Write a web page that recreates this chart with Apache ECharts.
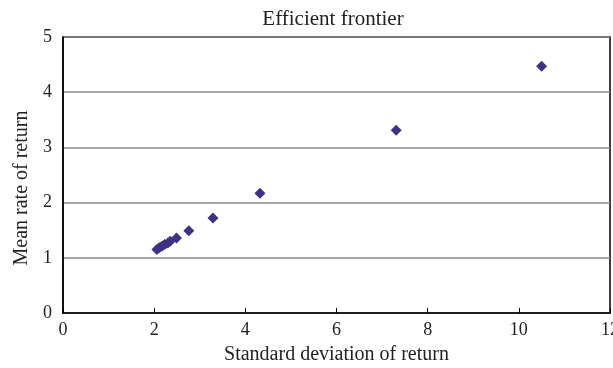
<!DOCTYPE html>
<html><head><meta charset="utf-8">
<script src="https://cdn.jsdelivr.net/npm/echarts@6/dist/echarts.min.js"></script>
<style>html,body{margin:0;padding:0;background:#fff}#c{width:613px;height:368px}</style>
</head><body><div id="c"></div>
<script>
const stdDev = [2.06, 2.11, 2.17, 2.23, 2.30, 2.35, 2.49, 2.76, 3.29, 4.32, 7.31, 10.50];
const meanRet = [1.15, 1.18, 1.21, 1.24, 1.27, 1.30, 1.36, 1.49, 1.72, 2.17, 3.31, 4.47];
const xTicks = [0, 2, 4, 6, 8, 10, 12];
const yTicks = [0, 1, 2, 3, 4, 5];
const font = 'Liberation Serif';
const chart = echarts.init(document.getElementById('c'));
chart.setOption({
  animation: false,
  title: {text: 'Efficient frontier', left: 328, top: 4, textAlign: 'center',
    textStyle: {fontFamily: font, fontSize: 21, fontWeight: 'normal', color: '#222'}},
  grid: {left: 63, right: 3, top: 37, bottom: 55, show: true, borderColor: '#000', borderWidth: 1.5,
    containLabel: false, outerBoundsMode: 'none'},
  xAxis: {type: 'value', min: 0, max: 12, interval: 2,
    name: 'Standard deviation of return', nameLocation: 'middle', nameGap: 32,
    nameTextStyle: {fontFamily: font, fontSize: 20, color: '#222'},
    axisLine: {show: true, lineStyle: {color: '#000', width: 1.5}},
    axisTick: {show: true, inside: true, length: 5, lineStyle: {color: '#000'}},
    axisLabel: {fontFamily: font, fontSize: 18, color: '#222', margin: 8, hideOverlap: false,
      formatter: v => xTicks.includes(v) ? String(v) : ''},
    splitLine: {show: false}},
  yAxis: {type: 'value', min: 0, max: 5, interval: 1,
    name: 'Mean rate of return', nameLocation: 'middle', nameGap: 31,
    nameTextStyle: {fontFamily: font, fontSize: 20, color: '#222', padding: [0, 26, 0, 0]},
    axisLine: {show: true, lineStyle: {color: '#000', width: 1.5}},
    axisTick: {show: false},
    axisLabel: {fontFamily: font, fontSize: 18, color: '#222', margin: 11,
      formatter: v => yTicks.includes(v) ? String(v) : ''},
    splitLine: {show: true, lineStyle: {color: '#888', width: 1.5}}},
  series: [{type: 'scatter', symbol: 'diamond', symbolSize: 11,
    itemStyle: {color: '#3e3282', opacity: 1},
    data: stdDev.map((x, i) => [x, meanRet[i]])}]
});
</script></body></html>
